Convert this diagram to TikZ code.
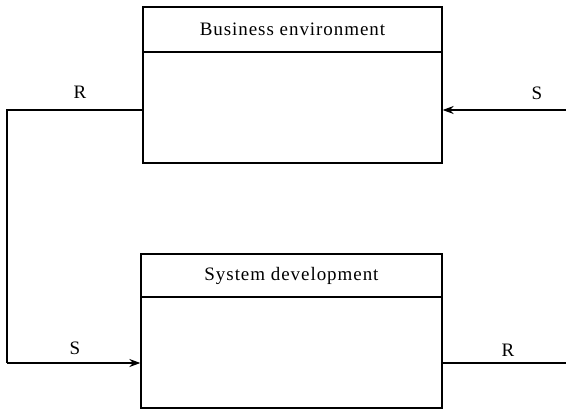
\documentclass[tikz,border=0pt]{standalone}
\usepackage{fontspec}
\setmainfont{Liberation Serif}
\newfontfamily\lblfont[LetterSpace=5]{Liberation Serif}
\usetikzlibrary{arrows.meta}
\begin{document}
\begin{tikzpicture}[x=1pt,y=-1pt,
  boxpart/.style={draw, line width=1.3pt, inner sep=0pt, anchor=center},
  head/.style={boxpart, font=\lblfont\fontsize{19}{21}\selectfont},
  flow/.style={line width=1.6pt},
  lbl/.style={font=\lblfont\fontsize{19}{21}\selectfont, inner sep=0pt},
  tip/.style={-{Stealth[length=11pt,width=8pt]}}
]
\useasboundingbox (0,0) rectangle (566,410);

% Business environment block
\node[head, minimum width=299pt, minimum height=45pt] (beh) at (292.5,29.5) {Business environment};
\node[boxpart, minimum width=299pt, minimum height=111pt] (beb) at (292.5,107.5) {};

% System development block
\node[head, minimum width=301pt, minimum height=43pt] (sdh) at (291.5,275.5) {System development};
\node[boxpart, minimum width=301pt, minimum height=111pt] (sdb) at (291.5,352.5) {};

% connector end points
\coordinate (ctop) at (7,110);
\coordinate (cbot) at (7,363);
\coordinate (sin) at (566,110);
\coordinate (rout) at (566,363);

% loop from the business environment down into system development
\draw[flow] ([yshift=-2.5pt]beb.west) -- (ctop) -- (cbot);
\draw[flow, tip] (cbot) -- ([yshift=-10.5pt]sdb.west);
% incoming S on the right of the business environment
\draw[flow, tip] (sin) -- ([yshift=-2.5pt]beb.east);
% outgoing R of system development
\draw[flow] ([yshift=-10.5pt]sdb.east) -- (rout);

% flow labels
\node[lbl] (r1) at (80,92) {R};
\node[lbl] (s1) at (537,93) {S};
\node[lbl] (s2) at (75,348) {S};
\node[lbl] (r2) at (508,350) {R};
\end{tikzpicture}
\end{document}
